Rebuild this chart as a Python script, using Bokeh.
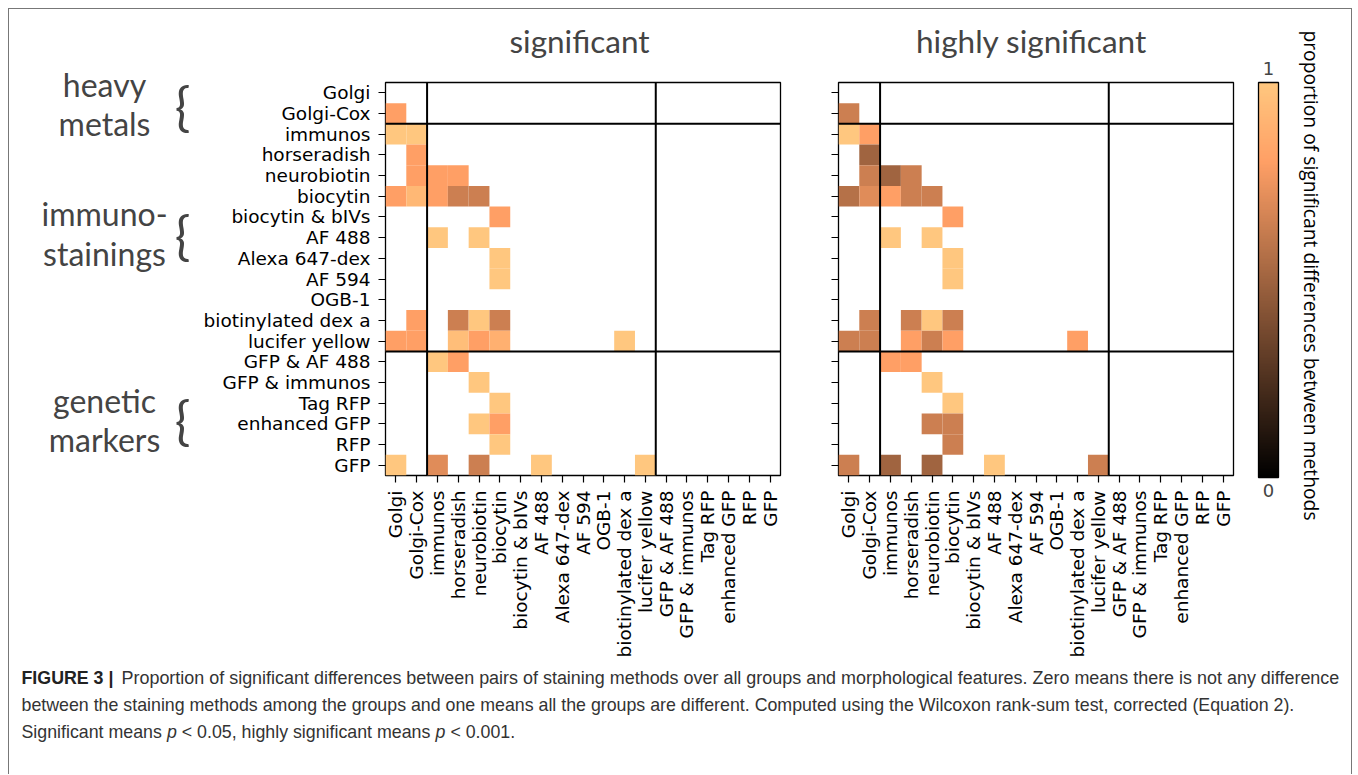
import math
import numpy as np
from bokeh.plotting import figure
from bokeh.layouts import row, column
from bokeh.models import ColumnDataSource, Span, Label, LinearColorMapper, Range1d, FactorRange
from bokeh.embed import file_html
from bokeh.resources import INLINE

# ---------------- data ----------------
methods = ["Golgi", "Golgi-Cox", "immunos", "horseradish", "neurobiotin", "biocytin",
           "biocytin & bIVs", "AF 488", "Alexa 647-dex", "AF 594", "OGB-1",
           "biotinylated dex a", "lucifer yellow", "GFP & AF 488", "GFP & immunos",
           "Tag RFP", "enhanced GFP", "RFP", "GFP"]

# "significant" (p < 0.05): lower-triangle non-empty cells (row index, column index, value)
sig_row = [1, 2, 2, 3, 4, 4, 4, 5, 5, 5, 5, 5, 6, 7, 7, 8, 9, 11, 11, 11, 11,
           12, 12, 12, 12, 12, 12, 13, 13, 14, 15, 16, 16, 17, 18, 18, 18, 18, 18]
sig_col = [0, 0, 1, 1, 1, 2, 3, 0, 1, 2, 3, 4, 5, 2, 4, 5, 5, 1, 3, 4, 5,
           0, 1, 3, 4, 5, 11, 2, 3, 4, 5, 4, 5, 5, 0, 2, 4, 7, 12]
sig_val = [0.80, 1.00, 1.00, 0.80, 0.80, 0.80, 0.80, 0.80, 0.92, 0.80, 0.64, 0.64, 0.80,
           1.00, 1.00, 1.00, 1.00, 0.80, 0.64, 1.00, 0.64,
           0.80, 0.80, 0.95, 0.80, 0.88, 1.00, 1.00, 0.80, 1.00, 1.00, 1.00, 0.80, 1.00,
           1.00, 0.70, 0.64, 1.00, 1.00]

# "highly significant" (p < 0.001)
hs_row = [1, 2, 2, 3, 4, 4, 4, 5, 5, 5, 5, 5, 6, 7, 7, 8, 9, 11, 11, 11, 11,
          12, 12, 12, 12, 12, 12, 13, 13, 14, 15, 16, 16, 17, 18, 18, 18, 18, 18]
hs_col = [0, 0, 1, 1, 1, 2, 3, 0, 1, 2, 3, 4, 5, 2, 4, 5, 5, 1, 3, 4, 5,
          0, 1, 3, 4, 5, 11, 2, 3, 4, 5, 4, 5, 5, 0, 2, 4, 7, 12]
hs_val = [0.64, 1.00, 0.80, 0.50, 0.64, 0.50, 0.64, 0.57, 0.70, 0.80, 0.64, 0.64, 0.80,
          1.00, 1.00, 1.00, 1.00, 0.64, 0.64, 1.00, 0.64,
          0.64, 0.64, 0.80, 0.64, 0.80, 0.80, 0.80, 0.80, 1.00, 1.00, 0.64, 0.64, 0.64,
          0.64, 0.50, 0.50, 1.00, 0.64]

group_breaks = [2, 13]
group_lines = [["heavy", "metals"], ["immuno-", "stainings"], ["genetic", "markers"]]
panel_titles = ["significant", "highly significant"]
cbar_ticks = ["0", "1"]
cbar_label = "proportion of significant differences between methods"
caption_bold = "FIGURE 3 |"
caption_lines = [
    "Proportion of significant differences between pairs of staining methods over all groups and morphological features. Zero means there is not any difference",
    "between the staining methods among the groups and one means all the groups are different. Computed using the Wilcoxon rank-sum test, corrected (Equation 2).",
]
# last caption line, split so that the p's can be set in italics
caption_last = [("Significant means", "normal"), ("p", "italic"),
                ("< 0.05, highly significant means", "normal"), ("p", "italic"),
                ("< 0.001.", "normal")]

# ---------------- style ----------------
TICK_FONT = "DejaVu Sans"
HEAD_FONT = "Lato"
CAP_FONT = "Liberation Sans"
CAP_SIZE = 17.8
N = len(methods)
FRAME = 395
ROW_TOP, ROW_BOTTOM = 9, 660          # page y of the top row
HEAD_BOTTOM = 77                      # page y where the header strips end
FRAME_TOP = 82


def copper(t):
    r, g, b = min(1.0, 1.25 * t), 0.7812 * t, 0.4975 * t
    return "#%02x%02x%02x" % (round(r * 255), round(g * 255), round(b * 255))


palette = [copper(i / 255) for i in range(256)]
mapper = LinearColorMapper(palette=palette, low=0, high=1)

# Arial / Liberation Sans advance widths (per 1000 em) for caption layout
ARIAL_W = {" ": 278, "S": 667, "i": 222, "g": 556, "n": 556, "f": 278, "c": 500, "a": 556,
           "t": 278, "m": 833, "e": 556, "s": 500, "h": 556, "l": 222, "y": 500, "p": 556,
           "<": 584, "0": 556, ".": 278, "5": 556, "1": 556, ",": 278}


def text_w(s, size):
    return sum(ARIAL_W.get(ch, 556) for ch in s) * size / 1000.0


def canvas(x0, y0, w, h):
    """A blank figure whose data coordinates are page pixels (y negated)."""
    p = figure(width=w, height=h, x_range=Range1d(x0, x0 + w), y_range=Range1d(-(y0 + h), -y0),
               x_axis_type=None, y_axis_type=None, output_backend="svg",
               toolbar_location=None, tools="", min_border=0, frame_align=False)
    p.grid.visible = False
    p.outline_line_color = None
    return p


def text(p, x, y, s, size, font=HEAD_FONT, align="center", **kw):
    p.add_layout(Label(x=x, y=-y, text=s, text_align=align, text_baseline="middle",
                       text_font=font, text_font_size=f"{size}px", **kw))


def heatmap(rows, cols, vals, left, right, show_labels):
    width = left + FRAME + right
    h = ROW_BOTTOM - HEAD_BOTTOM
    top = FRAME_TOP - HEAD_BOTTOM
    p = figure(width=width, height=h,
               x_range=FactorRange(*methods), y_range=FactorRange(*reversed(methods)),
               output_backend="svg", toolbar_location=None, tools="", frame_align=False,
               min_border_left=left, min_border_right=right,
               min_border_top=top, min_border_bottom=h - top - FRAME)
    src = ColumnDataSource(dict(x=[methods[c] for c in cols],
                                y=[methods[r] for r in rows], v=vals))
    p.rect(x="x", y="y", width=1, height=1, source=src,
           fill_color={"field": "v", "transform": mapper}, line_color=None)
    for b in group_breaks:
        p.add_layout(Span(location=b, dimension="height", line_color="black", line_width=2))
        p.add_layout(Span(location=N - b, dimension="width", line_color="black", line_width=2))
    p.grid.visible = False
    p.outline_line_color = "black"
    p.outline_line_width = 1.3
    for ax in (p.xaxis[0], p.yaxis[0]):
        ax.axis_line_color = None
        ax.major_tick_line_color = "black"
        ax.major_tick_line_width = 1.2
        ax.major_tick_out = 7
        ax.major_tick_in = 0
        ax.major_label_text_font = TICK_FONT
        ax.major_label_text_font_size = "18.5px"
        ax.major_label_text_color = "black"
        ax.major_label_standoff = 8
    p.xaxis.major_label_orientation = math.pi / 2
    if not show_labels:
        p.yaxis.major_label_text_font_size = "0px"
        p.yaxis.major_label_text_color = None
        p.yaxis.major_label_standoff = 0
    return p


# ---- left column: group names and braces
G = canvas(9, ROW_TOP, 191, ROW_BOTTOM - ROW_TOP)
line_y = [(84, 123), (213, 253), (400, 439)]
brace_y = [104, 233, 418]
for lines, ys, by in zip(group_lines, line_y, brace_y):
    for s, yy in zip(lines, ys):
        text(G, 104, yy, s, 32)
    text(G, 182, by, "{", 52)

# ---- heatmaps with their titles
H1 = canvas(200, ROW_TOP, 600, HEAD_BOTTOM - ROW_TOP)
text(H1, 579, 40, panel_titles[0], 31.5)
f1 = heatmap(sig_row, sig_col, sig_val, 185, 20, True)

H2 = canvas(800, ROW_TOP, 440, HEAD_BOTTOM - ROW_TOP)
text(H2, 1031, 40, panel_titles[1], 31.5)
f2 = heatmap(hs_row, hs_col, hs_val, 38, 7, False)

# ---- colour bar
CB = canvas(1240, ROW_TOP, 111, ROW_BOTTOM - ROW_TOP)
CB.image(image=[np.linspace(0, 1, 256).reshape(256, 1)], x=1258, y=-(FRAME_TOP + FRAME),
         dw=20, dh=FRAME, color_mapper=mapper)
CB.quad(left=1258, right=1278, bottom=-(FRAME_TOP + FRAME), top=-FRAME_TOP,
        fill_color=None, line_color="black", line_width=1.3)
text(CB, 1268, 68, cbar_ticks[1], 18, font=TICK_FONT)
text(CB, 1268, 490, cbar_ticks[0], 18, font=TICK_FONT)
CB.add_layout(Label(x=1311, y=-275, text=cbar_label, angle=-math.pi / 2,
                    text_align="center", text_baseline="middle", text_font="Open Sans",
                    text_font_size="19.3px", text_color="black"))

# ---- caption
CAP_H = 114
cap = canvas(9, ROW_BOTTOM, 1342, CAP_H)
text(cap, 21, 677, caption_bold, CAP_SIZE, font=CAP_FONT, align="left",
     text_font_style="bold", text_color="#222222")
text(cap, 121, 677, caption_lines[0], 17.95, font=CAP_FONT, align="left", text_color="#333333")
text(cap, 21, 704, caption_lines[1], CAP_SIZE, font=CAP_FONT, align="left", text_color="#333333")
cx = 21
for s, style in caption_last:
    text(cap, cx, 731, s, CAP_SIZE, font=CAP_FONT, align="left",
         text_font_style=style, text_color="#333333")
    cx += text_w(s + " ", CAP_SIZE)

top_row = row(G, column(H1, f1), column(H2, f2), CB)
layout = column(top_row, cap,
                styles={"margin-left": "8px", "margin-top": "8px",
                        "border-top": "1px solid #777", "border-left": "1px solid #777",
                        "border-right": "1px solid #777"})

open("out.html", "w").write(file_html(layout, INLINE))
